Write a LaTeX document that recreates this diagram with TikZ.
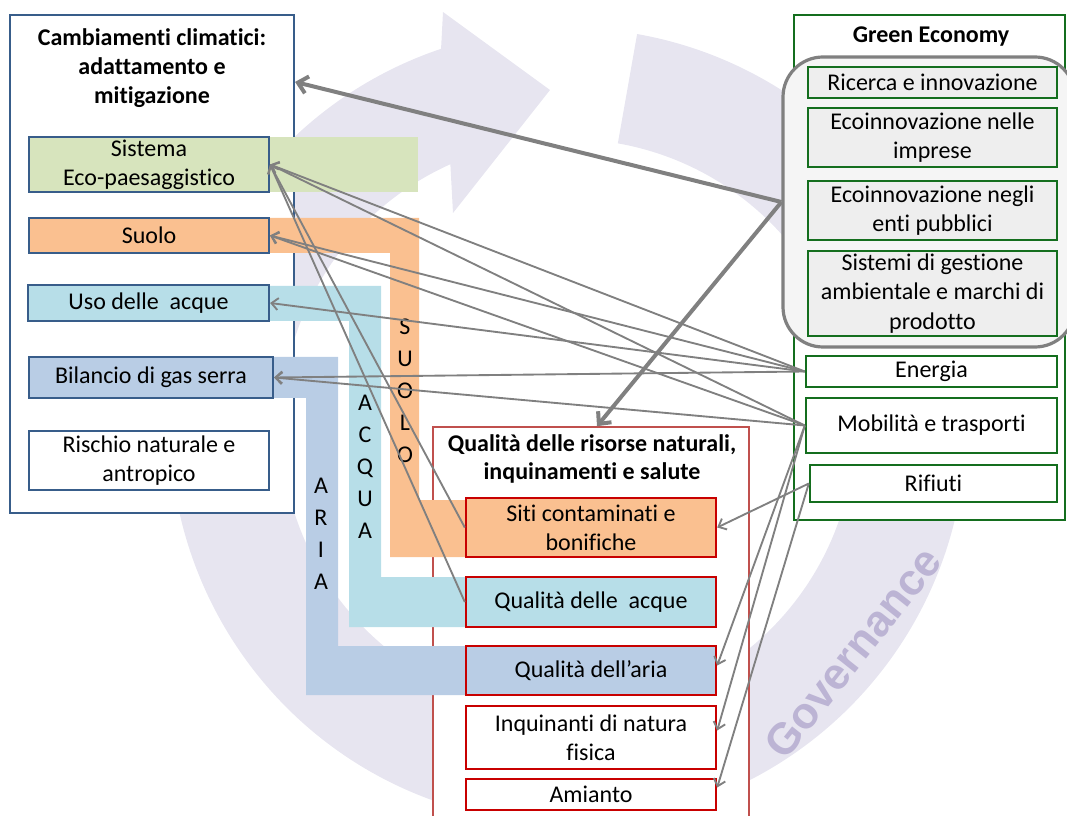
\documentclass[tikz,border=0pt]{standalone}
\usepackage{fontspec}
\setmainfont{Carlito}[Ligatures=NoCommon]
\newfontfamily\govfont{Liberation Sans Bold}
\usetikzlibrary{arrows.meta,calc}

\definecolor{ringc}{RGB}{231,229,240}
\definecolor{govtxt}{RGB}{188,180,212}
\definecolor{cblue}{RGB}{56,93,138}
\definecolor{cgreen}{RGB}{20,110,30}
\definecolor{cred}{RGB}{200,0,0}
\definecolor{credl}{RGB}{192,80,77}
\definecolor{fgreen}{RGB}{215,228,189}
\definecolor{forange}{RGB}{250,192,144}
\definecolor{fteal}{RGB}{183,222,232}
\definecolor{fblue}{RGB}{185,205,229}
\definecolor{fgray}{RGB}{238,238,238}
\definecolor{agray}{RGB}{128,128,128}

\tikzset{
  wh/.style 2 args={minimum width=#1*0.75pt, minimum height=#2*0.75pt},
  boxbase/.style={inner sep=0pt, align=center},
  bluebox/.style={boxbase, draw=cblue, line width=1.6pt},
  redbox/.style={boxbase, draw=cred, line width=1.8pt},
  greenbox/.style={boxbase, draw=cgreen, line width=1.8pt},
  container/.style={boxbase, fill=white, line width=1.2pt},
  headline/.style={font=\fontsize{18}{21.5}\selectfont\bfseries, align=center},
  bandletters/.style={font=\fontsize{18}{24}\selectfont, align=center, inner sep=0pt},
  link/.style={draw=agray, line width=1.4pt, -{Straight Barb[length=5pt,width=9pt]}},
  biglink/.style={draw=agray, line width=3pt, -{Straight Barb[length=7pt,width=13pt]}},
}

\begin{document}
\begin{tikzpicture}[x=0.75pt, y=-0.75pt,
  every node/.append style={font=\fontsize{18}{22}\selectfont}]
\useasboundingbox (0,0) rectangle (1067,816);

% circular arrows in the background
\begin{scope}[shift={(568,426)}, x=0.75pt, y=0.75pt]
  \fill[ringc] (258:398) arc[start angle=258, end angle=108.6, radius=398]
    -- (-125,414) -- (-18,336) -- (-115,213) -- (114.2:287)
    arc[start angle=114.2, end angle=258, radius=287] -- cycle;
  \fill[ringc] (80:398) arc[start angle=80, end angle=15, radius=398]
    -- (15:440) -- (0:342) -- (15:244) -- (15:287)
    arc[start angle=15, end angle=80, radius=287] -- cycle;
  \fill[ringc] (-3:398) arc[start angle=-3, end angle=-82, radius=398]
    -- (-82:440) -- (-97:342) -- (-82:244) -- (-82:287)
    arc[start angle=-82, end angle=-3, radius=287] -- cycle;
  \node[anchor=base, rotate=51.5, inner sep=0pt, text=govtxt,
    font=\fontsize{33}{36}\govfont] (gov) at (-38.5:379) {Governance};
\end{scope}

% three main containers
\node[container, draw=cblue, line width=1.6pt, wh={284}{498}] (lbox) at (152,264) {};
\node[container, draw=credl, wh={316}{403}] (qbox) at (591,628.5) {};
\node[container, draw=cgreen, line width=1.6pt, wh={271}{505}] (gbox) at (929.5,267.5) {};
\node[boxbase, draw=agray, fill=fgray!60, line width=2.4pt, rounded corners=30pt,
  wh={292}{290}] (grp) at (929,202) {};

\node[headline] (ltitle) at (152,68) {Cambiamenti climatici:\\adattamento e\\mitigazione};
\node[headline] (qtitle) at (592,459) {Qualità delle risorse naturali,\\inquinamenti e salute};
\node[headline] (gtitle) at (931,37) {Green Economy};

% coloured bands linking the two columns
\fill[fgreen] (200,137) rectangle (418,192);
\fill[forange] (200,218) -- (419,218) -- (419,500) -- (500,500) -- (500,557)
  -- (390,557) -- (390,253) -- (200,253) -- cycle;
\fill[fteal] (200,286) -- (381,286) -- (381,577) -- (500,577) -- (500,627)
  -- (349,627) -- (349,321) -- (200,321) -- cycle;
\fill[fblue] (200,357) -- (338,357) -- (338,646) -- (500,646) -- (500,695)
  -- (306,695) -- (306,398) -- (200,398) -- cycle;

\node[bandletters] (lsuolo) at (405,391) {S\\U\\O\\L\\O};
\node[bandletters] (lacqua) at (365,467) {A\\C\\Q\\U\\A};
\node[bandletters] (laria) at (321,534) {A\\R\\I\\A};

% climate column
\node[bluebox, fill=fgreen, wh={240}{55}] (sis) at (149,164.5) {Sistema\\Eco-paesaggistico};
\node[bluebox, fill=forange, wh={240}{35}] (suo) at (149,235.5) {Suolo};
\node[bluebox, fill=fteal, wh={241}{36}] (uso) at (148.5,303) {Uso delle\ \ acque};
\node[bluebox, fill=fblue, wh={244}{41}] (bil) at (151,377.5) {Bilancio di gas serra};
\node[bluebox, fill=white, wh={240}{59}] (ris) at (149,460.5) {Rischio naturale e\\antropico};

% quality column
\node[redbox, fill=forange, wh={250}{59}] (siti) at (591,527.5) {Siti contaminati e\\bonifiche};
\node[redbox, fill=fteal, wh={250}{50}] (qacq) at (591,602) {Qualità delle\ \ acque};
\node[redbox, fill=fblue, wh={250}{49}] (qaria) at (591,670.5) {Qualità dell’aria};
\node[redbox, fill=white, wh={250}{63}] (inq) at (591,737.5) {Inquinanti di natura\\fisica};
\node[redbox, fill=white, wh={250}{31}] (ami) at (591,794.5) {Amianto};

% green economy column
\node[greenbox, fill=fgray, wh={249}{31}] (ric) at (932.5,82.5) {Ricerca e innovazione};
\node[greenbox, fill=fgray, wh={249}{59}] (eci) at (932.5,137.5) {Ecoinnovazione nelle\\imprese};
\node[greenbox, fill=fgray, wh={249}{59}] (ecp) at (932.5,210.5) {Ecoinnovazione negli\\enti pubblici};
\node[greenbox, fill=fgray, wh={249}{85}] (sge) at (932.5,293.5) {Sistemi di gestione\\ambientale e marchi di\\prodotto};
\node[greenbox, fill=white, wh={251}{31}] (ene) at (931.5,371.5) {Energia};
\node[greenbox, fill=white, wh={251}{55}] (mob) at (931.5,425.5) {Mobilità e trasporti};
\node[greenbox, fill=white, wh={247}{37}] (rif) at (933.5,483.5) {Rifiuti};

% connectors
\draw[biglink] (grp.west) -- ($(lbox.north east)+(0,68)$);
\draw[biglink] (grp.west) -- ($(qbox.north)+(6,0)$);

\draw[link] (ene.west) -- (sis.east);
\draw[link] (ene.west) -- (suo.east);
\draw[link] (ene.west) -- (uso.east);
\draw[link] (ene.west) -- (bil.east);
\draw[link] (mob.west) -- (sis.east);
\draw[link] (mob.west) -- (suo.east);
\draw[link] (mob.west) -- (bil.east);
\draw[link] (siti.west) -- (sis.east);
\draw[link] (qacq.west) -- (sis.east);
\draw[link] (mob.west) -- ($(qaria.east)+(0,-5)$);
\draw[link] (mob.west) -- ($(inq.east)+(0,-7)$);
\draw[link] (rif.west) -- (siti.east);
\draw[link] (rif.west) -- ($(ami.east)+(0,-7)$);
\end{tikzpicture}
\end{document}
